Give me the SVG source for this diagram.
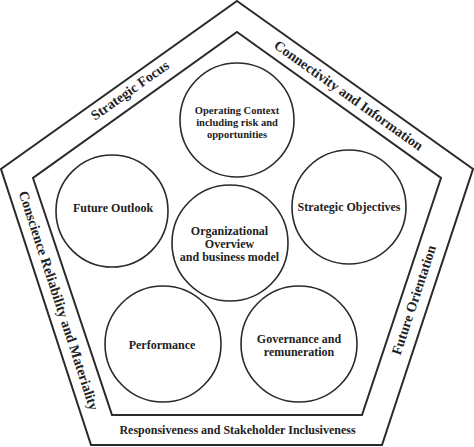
<svg xmlns="http://www.w3.org/2000/svg" width="474" height="447" viewBox="0 0 474 447">
<style>
.pent{fill:none;stroke:#2a2a2a;stroke-width:2;stroke-linejoin:miter}
.circ{fill:#fff;stroke:#2a2a2a;stroke-width:1.6}
text{font-family:"Liberation Serif","Times New Roman",serif;font-weight:bold;fill:#222;text-anchor:middle;dominant-baseline:central}
.c{font-size:12px}
.s{font-size:10.5px}
.b{font-size:14px}
.bot{font-size:12px}
</style>
<rect width="474" height="447" fill="#fff"/>
<g id="frame">
<polygon class="pent" points="237,1 473,169 382,445 91,445 1,169"/>
<polygon class="pent" points="237,32 441,178 362,415 112,415 33,178"/>
</g>
<g id="band-labels">
<text class="b" x="130" y="90.5" transform="rotate(-35.4 130 90.5)">Strategic Focus</text>
<text class="b" x="348.5" y="95.5" transform="rotate(35.4 348.5 95.5)">Connectivity and Information</text>
<text class="b" x="58.5" y="300.5" transform="rotate(71.9 58.5 300.5)">Conscience Reliability and Materiality</text>
<text class="b" x="414" y="300" transform="rotate(-71.7 414 300)">Future Orientation</text>
<text class="bot" x="237.5" y="429.5">Responsiveness and Stakeholder Inclusiveness</text>
</g>
<g id="operating-context">
<circle class="circ" cx="237" cy="120" r="57"/>
<text class="s" x="237" y="110">Operating Context</text>
<text class="s" x="237" y="122">including risk and</text>
<text class="s" x="237" y="134">opportunities</text>
</g>
<g id="future-outlook">
<circle class="circ" cx="112" cy="211" r="56"/>
<text class="c" x="113" y="208">Future Outlook</text>
</g>
<g id="strategic-objectives">
<circle class="circ" cx="349" cy="207" r="57"/>
<text class="c" x="349" y="207">Strategic Objectives</text>
</g>
<g id="organizational-overview">
<circle class="circ" cx="230" cy="243" r="58"/>
<text class="c" x="229.5" y="231">Organizational</text>
<text class="c" x="229.5" y="243.5">Overview</text>
<text class="c" x="229.5" y="256.5">and business model</text>
</g>
<g id="performance">
<circle class="circ" cx="163" cy="344" r="58"/>
<text class="c" x="162" y="345">Performance</text>
</g>
<g id="governance">
<circle class="circ" cx="299" cy="344" r="58"/>
<text class="c" x="299" y="339">Governance and</text>
<text class="c" x="299" y="351.5">remuneration</text>
</g>
<g id="connectors"/>
</svg>
